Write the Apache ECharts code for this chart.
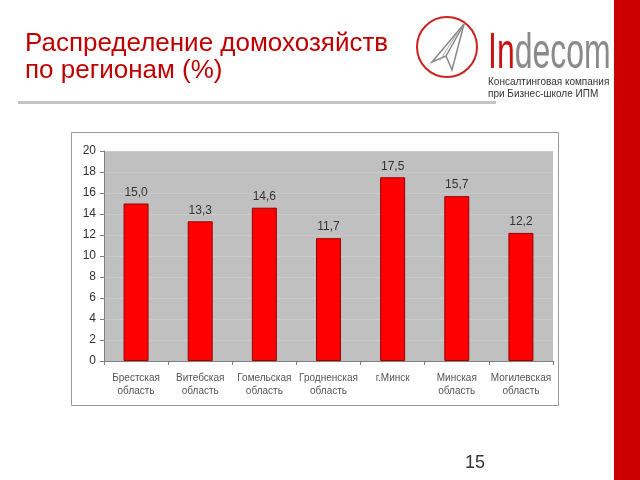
<!DOCTYPE html>
<html>
<head>
<meta charset="utf-8">
<script src="https://cdn.jsdelivr.net/npm/echarts@6/dist/echarts.min.js"></script>
<style>
html,body{margin:0;padding:0;background:#fff;}
#main{width:640px;height:480px;}
</style>
</head>
<body>
<div id="main"></div>
<script>
const categories = ['Брестская\nобласть','Витебская\nобласть','Гомельская\nобласть','Гродненская\nобласть','г.Минск','Минская\nобласть','Могилевская\nобласть'];
const values = [15.0, 13.3, 14.6, 11.7, 17.5, 15.7, 12.2];
const yTicks = [0, 2, 4, 6, 8, 10, 12, 14, 16, 18, 20];
const titleLines = ['Распределение домохозяйств', 'по регионам (%)'];
const logoLines = ['Консалтинговая компания', 'при Бизнес-школе ИПМ'];
const pageNumber = '15';

const chart = echarts.init(document.getElementById('main'), null, {renderer:'canvas'});
const option = {
  backgroundColor: '#ffffff',
  animation: false,
  grid: {left: 104, right: 87, top: 151, bottom: 119, show: true, backgroundColor: '#c0c0c0', borderWidth: 0},
  xAxis: {
    type: 'category',
    data: categories,
    axisLine: {lineStyle: {color: '#808080', width: 1}},
    axisTick: {show: true, alignWithLabel: false, length: 4, lineStyle: {color: '#808080'}},
    axisLabel: {color: '#555', fontSize: 10, fontFamily: 'Liberation Sans, Arial', lineHeight: 13, margin: 11, interval: 0}
  },
  yAxis: {
    type: 'value',
    min: yTicks[0],
    max: yTicks[yTicks.length - 1],
    interval: 2,
    axisLine: {show: true, lineStyle: {color: '#808080'}},
    axisTick: {show: true, length: 4, lineStyle: {color: '#808080'}},
    axisLabel: {color: '#333', fontSize: 12, fontFamily: 'Liberation Sans, Arial', margin: 8},
    splitLine: {show: true, lineStyle: {color: '#c9c9c9', width: 1}}
  },
  series: [{
    type: 'bar',
    data: values,
    barWidth: 25,
    itemStyle: {color: '#ff0000', borderColor: '#990000', borderWidth: 1},
    label: {
      show: true, position: 'top', distance: 5,
      color: '#333', fontSize: 12, fontFamily: 'Liberation Sans, Arial',
      formatter: p => p.value.toFixed(1).replace('.', ',')
    }
  }],
  graphic: [
    {type: 'rect', z: -10, shape: {x: 71.5, y: 132.5, width: 487, height: 273}, style: {fill: '#fff', stroke: '#9a9a9a', lineWidth: 1}},
    {type: 'rect', shape: {x: 614, y: 0, width: 26, height: 480}, style: {fill: '#cc0000'}},
    {type: 'rect', shape: {x: 18, y: 101, width: 478, height: 3}, style: {fill: '#c4c4c4'}},
    {type: 'text', x: 25, y: 31, style: {text: titleLines[0], fill: '#c00000', font: '26px "Liberation Sans", Arial', verticalAlign: 'top'}},
    {type: 'text', x: 25, y: 58, style: {text: titleLines[1], fill: '#c00000', font: '26px "Liberation Sans", Arial', verticalAlign: 'top'}},
    {type: 'circle', shape: {cx: 447, cy: 47, r: 30}, style: {fill: 'none', stroke: '#cc2222', lineWidth: 2}},
    {type: 'polyline', shape: {points: [[464, 24], [432, 62], [446, 56], [452, 70], [464, 24]]}, style: {fill: 'none', stroke: '#888', lineWidth: 1.5}},
    {type: 'polyline', shape: {points: [[464, 24], [446, 56]]}, style: {stroke: '#888', lineWidth: 1.5}},
    {type: 'polyline', shape: {points: [[458, 32], [440, 60]]}, style: {stroke: '#aaa', lineWidth: 1}},
    {type: 'text', x: 488, y: 29, scaleX: 0.64, style: {
      text: '{a|In}{b|decom}', verticalAlign: 'top',
      rich: {a: {fill: '#cc1111', font: '50px "Liberation Sans", Arial'}, b: {fill: '#8a8a8a', font: '50px "Liberation Sans", Arial'}}
    }},
    {type: 'text', x: 488, y: 77, style: {text: logoLines[0], fill: '#333', font: '10px "Liberation Sans", Arial', verticalAlign: 'top'}},
    {type: 'text', x: 488, y: 89, style: {text: logoLines[1], fill: '#333', font: '10px "Liberation Sans", Arial', verticalAlign: 'top'}},
    {type: 'text', x: 465, y: 454, style: {text: pageNumber, fill: '#333', font: '18px "Liberation Sans", Arial', verticalAlign: 'top'}}
  ]
};
chart.setOption(option);
</script>
</body>
</html>
